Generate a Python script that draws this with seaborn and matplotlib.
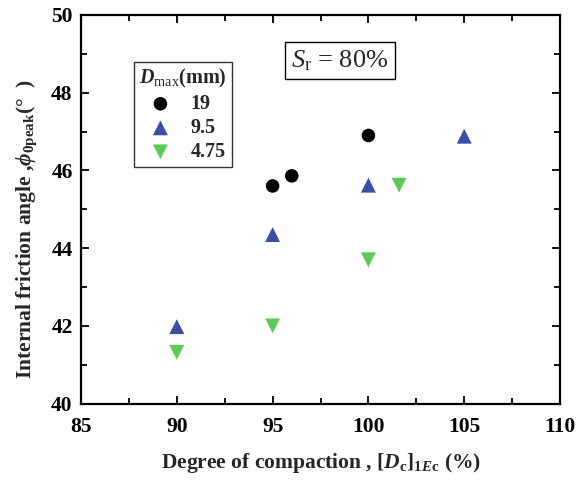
import numpy as np
import pandas as pd
import matplotlib
matplotlib.use("Agg")
import matplotlib.pyplot as plt
import seaborn as sns
from matplotlib.ticker import MultipleLocator

# data
dc_19 = [95, 96, 100]
phi_19 = [45.6, 45.86, 46.9]
dc_95 = [90, 95, 100, 105]
phi_95 = [41.98, 44.35, 45.62, 46.88]
dc_475 = [90, 95, 100, 101.6]
phi_475 = [41.32, 42.0, 43.7, 45.62]
labels = ["19", "9.5", "4.75"]

sns.set_theme(style="ticks")
plt.rcParams['font.family'] = ['Liberation Serif', 'DejaVu Serif']
plt.rcParams['mathtext.fontset'] = 'custom'
plt.rcParams['mathtext.rm'] = 'Liberation Serif'
plt.rcParams['mathtext.it'] = 'Liberation Serif:italic'
plt.rcParams['mathtext.bf'] = 'Liberation Serif:bold'
plt.rcParams['mathtext.bfit'] = 'Liberation Serif:bold:italic'

df = pd.DataFrame({
    "x": dc_19 + dc_95 + dc_475,
    "y": phi_19 + phi_95 + phi_475,
    "D": [labels[0]] * len(dc_19) + [labels[1]] * len(dc_95) + [labels[2]] * len(dc_475),
})

fig = plt.figure(figsize=(5.81, 4.8), dpi=100)
ax = fig.add_axes([0.1394, 0.1592, 0.8245, 0.8096])

palette = {"19": "#000000", "9.5": "#3B4DA6", "4.75": "#5DC956"}
markers = {"19": "o", "9.5": "^", "4.75": "v"}
sizes = {"19": 95, "9.5": 115, "4.75": 115}
for lab in labels:
    sub = df[df["D"] == lab]
    sns.scatterplot(data=sub, x="x", y="y", color=palette[lab], marker=markers[lab],
                    s=sizes[lab], edgecolor="none", ax=ax, label=lab, zorder=3)

ax.set_xlim(85, 110)
ax.set_ylim(40, 50)
ax.xaxis.set_major_locator(MultipleLocator(5))
ax.xaxis.set_minor_locator(MultipleLocator(2.5))
ax.yaxis.set_major_locator(MultipleLocator(2))
ax.yaxis.set_minor_locator(MultipleLocator(1))
ax.tick_params(which='both', direction='in', top=True, right=True, width=1.3, colors='black')
ax.tick_params(which='major', length=6)
ax.tick_params(which='minor', length=4)
ax.tick_params(axis='x', labeltop=False, pad=10)
ax.tick_params(axis='y', pad=6)
for t in ax.get_xticklabels() + ax.get_yticklabels():
    t.set_fontweight('bold')
    t.set_fontsize(15.5)
for sp in ax.spines.values():
    sp.set_linewidth(1.6)
    sp.set_color('black')

ax.set_xlabel(r"Degree of compaction , $\mathbf{[}\mathbfit{D}_{\mathbf{c}}\mathbf{]}_{\mathbf{1}\mathbfit{E}\mathbf{c}}$ (%)",
              fontsize=15.5, fontweight='bold', labelpad=10)
ax.set_ylabel(r"Internal friction angle ,$\mathbfit{\phi}_{\mathbf{0peak}}$(°  )",
              fontsize=15.5, fontweight='bold')
ax.yaxis.set_label_coords(-0.088, 0.45)

leg = ax.legend(title=r"$\mathbfit{D}_{\mathrm{max}}$(mm)", loc='upper left',
                bbox_to_anchor=(0.111, 0.879), borderaxespad=0, frameon=True, fancybox=False,
                edgecolor='black', handletextpad=0.5, borderpad=0.25,
                labelspacing=0.2, prop={'weight': 'bold', 'size': 14.5})
leg.get_title().set_fontweight('bold')
leg.get_title().set_fontsize(14.5)
leg.get_frame().set_linewidth(1.0)

ax.text(0.541, 0.883, r"$S_{\mathrm{r}}$ = 80%", transform=ax.transAxes, fontsize=19,
        ha='center', va='center',
        bbox=dict(boxstyle='square,pad=0.25', facecolor='white', edgecolor='black', linewidth=1.0))

fig.savefig("out.png", dpi=100)
